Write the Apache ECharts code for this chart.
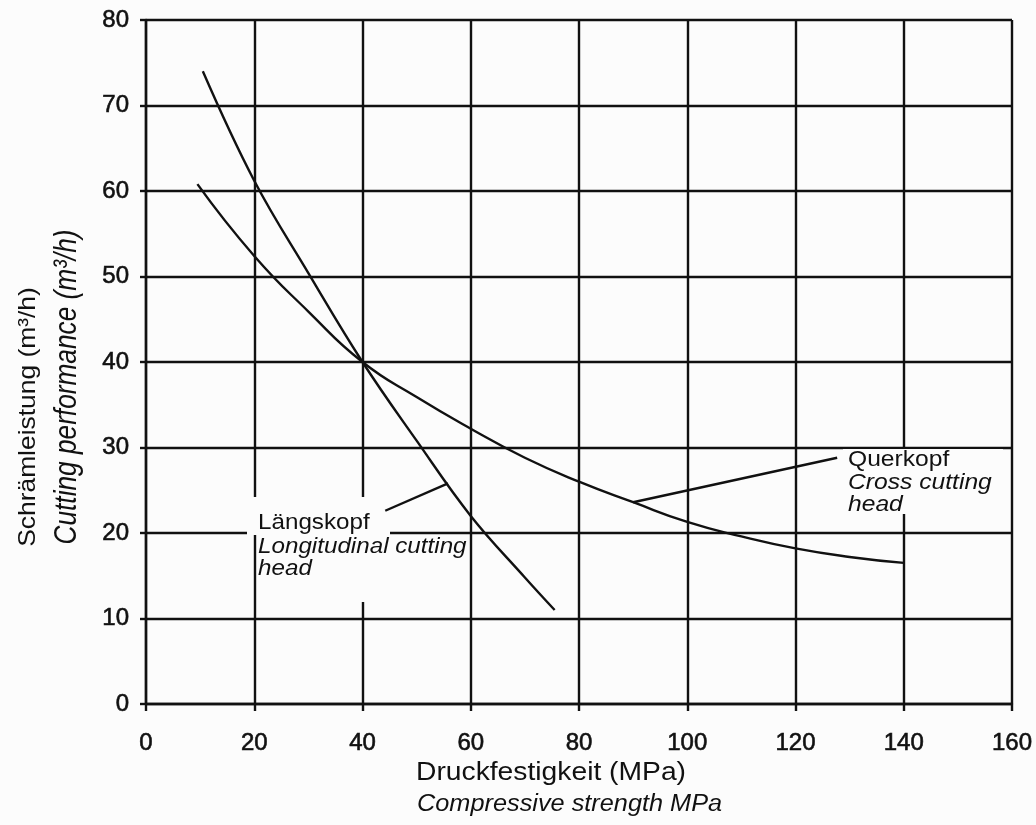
<!DOCTYPE html>
<html>
<head>
<meta charset="utf-8">
<script src="https://cdn.jsdelivr.net/npm/echarts@6/dist/echarts.min.js"></script>
<style>
  html, body { margin: 0; padding: 0; background: #fbfbfb; }
  #chart { width: 1036px; height: 825px; }
</style>
</head>
<body>
<div id="chart"></div>
<script>
// Schrämleistung über Druckfestigkeit

// Längskopf / longitudinal cutting head
let laengsX = [10.5, 20, 30, 40, 50, 60, 70, 75.5];
let laengsY = [74, 61.2, 50.4, 40, 30.8, 22, 14.8, 11];

// Querkopf / cross cutting head
let querX = [9.5, 20, 30, 40, 50, 60, 70, 80, 90, 100, 110, 120, 130, 140];
let querY = [60.8, 52.4, 45.9, 40, 35.9, 32.2, 28.8, 26, 23.6, 21.3, 19.6, 18.2, 17.2, 16.5];

// leader lines of the two labels
let laengsLeaderX = [44.2, 55.8];
let laengsLeaderY = [22.6, 25.8];
let querLeaderX = [90, 127.7];
let querLeaderY = [23.6, 28.8];

let xTicks = [0, 20, 40, 60, 80, 100, 120, 140, 160];
let yTicks = [0, 10, 20, 30, 40, 50, 60, 70, 80];

let zip = function (xs, ys) {
    return xs.map((x, i) => [x, ys[i]]);
};

const ink = '#111';
const paper = '#fcfcfc';
const font = '"Liberation Sans", Arial, Helvetica, sans-serif';

let txt = function (text, x, y, size, opts) {
    opts = opts || {};
    return {
        type: 'text',
        x: x,
        y: y,
        z: 3,
        rotation: opts.rotation || 0,
        scaleX: opts.scaleX || 1,
        style: {
            text: text,
            fill: ink,
            fontSize: size,
            fontFamily: font,
            fontStyle: opts.italic ? 'italic' : 'normal',
            align: opts.align || 'left',
            verticalAlign: 'middle',
            textAlign: opts.align || 'left',
            textVerticalAlign: 'middle'
        }
    };
};

let curve = function (data, smooth) {
    return {
        type: 'line',
        data: data,
        smooth: smooth,
        showSymbol: false,
        symbol: 'none',
        z: 2,
        lineStyle: { color: ink, width: 2.4 }
    };
};

let tickLabel = {
    color: ink,
    fontSize: 24,
    fontFamily: font,
    textBorderColor: ink,
    textBorderWidth: 0.6
};

let option = {
    animation: false,
    backgroundColor: paper,
    grid: { left: 146, right: 24, top: 20, bottom: 121 },
    xAxis: {
        type: 'value',
        min: xTicks[0],
        max: xTicks[xTicks.length - 1],
        interval: 20,
        axisLine: { show: true, onZero: false, lineStyle: { color: ink, width: 2.4 } },
        axisTick: { show: true, length: 7, lineStyle: { color: ink, width: 2.4 } },
        axisLabel: Object.assign({ margin: 27 }, tickLabel),
        splitLine: { show: true, lineStyle: { color: ink, width: 2.4 } }
    },
    yAxis: {
        type: 'value',
        min: yTicks[0],
        max: yTicks[yTicks.length - 1],
        interval: 10,
        axisLine: { show: true, lineStyle: { color: ink, width: 2.4 } },
        axisTick: { show: true, length: 6, lineStyle: { color: ink, width: 2.4 } },
        axisLabel: Object.assign({ margin: 17 }, tickLabel),
        splitLine: { show: true, lineStyle: { color: ink, width: 2.4 } }
    },
    graphic: [
        // white-outs behind the labels
        { type: 'rect', z: 1, shape: { x: 247, y: 497, width: 143, height: 38 }, style: { fill: paper } },
        { type: 'rect', z: 1, shape: { x: 260, y: 535, width: 130, height: 67 }, style: { fill: paper } },
        { type: 'rect', z: 1, shape: { x: 843, y: 449, width: 160, height: 65 }, style: { fill: paper } },

        txt('Längskopf', 258, 523, 22, { scaleX: 1.1 }),
        txt('Longitudinal cutting', 258, 547, 22, { italic: true, scaleX: 1.1 }),
        txt('head', 258, 569, 22, { italic: true, scaleX: 1.1 }),

        txt('Querkopf', 848, 460, 22, { scaleX: 1.12 }),
        txt('Cross cutting', 848, 483, 22, { italic: true, scaleX: 1.12 }),
        txt('head', 848, 505, 22, { italic: true, scaleX: 1.12 }),

        txt('Druckfestigkeit (MPa)', 416, 773, 25, { scaleX: 1.13 }),
        txt('Compressive strength MPa', 417, 805, 23, { italic: true, scaleX: 1.1 }),

        txt('Schrämleistung (m³/h)', 28, 417, 24, { align: 'center', rotation: Math.PI / 2, scaleX: 1.1 }),
        txt('Cutting performance (m³/h)', 67, 387, 32, { align: 'center', rotation: Math.PI / 2, italic: true, scaleX: 0.82 })
    ],
    series: [
        curve(zip(laengsX, laengsY), 0.4),
        curve(zip(querX, querY), 0.5),
        curve(zip(laengsLeaderX, laengsLeaderY), false),
        curve(zip(querLeaderX, querLeaderY), false)
    ]
};

let chart = echarts.init(document.getElementById('chart'));
chart.setOption(option);
</script>
</body>
</html>
